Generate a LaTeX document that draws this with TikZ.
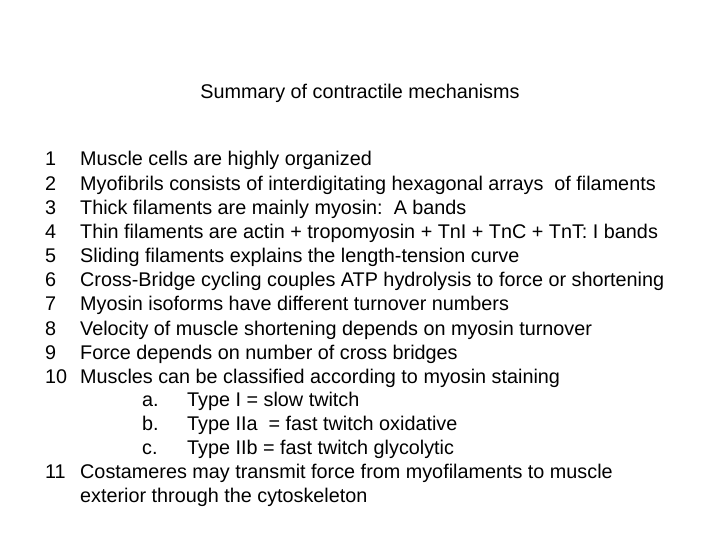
\documentclass[tikz,border=0pt]{standalone}
\usepackage{fontspec}
\setmainfont{Liberation Sans}
\begin{document}
\begin{tikzpicture}[x=1pt,y=-1pt,
  txt/.style={inner sep=0pt,font=\fontsize{19.8}{22}\selectfont,text height=14pt,text depth=4pt},
  num/.style={txt,anchor=west},
  line/.style={txt,anchor=west}]
\useasboundingbox[fill=white] (0,0) rectangle (720,540);
\node[txt] (title) at (360,94) {Summary of contractile mechanisms};
\foreach \n/\t [count=\i from 0] in {
 1/Muscle cells are highly organized,
 2/Myofibrils consists of interdigitating hexagonal arrays\ \ of filaments,
 3/Thick filaments are mainly myosin:\ \ A bands,
 4/Thin filaments are actin + tropomyosin + TnI + TnC + TnT: I bands,
 5/Sliding filaments explains the length-tension curve,
 6/Cross-Bridge cycling couples ATP hydrolysis to force or shortening,
 7/Myosin isoforms have different turnover numbers,
 8/Velocity of muscle shortening depends on myosin turnover,
 9/Force depends on number of cross bridges,
 10/Muscles can be classified according to myosin staining}{
  \node[num] (n\n) at (45,161+24.15*\i) {\n};
  \node[line] (t\n) at (80,161+24.15*\i) {\t};
}
\node[line] (la) at (142,401) {a.};
\node[line] (ta) at (187,401) {Type I = slow twitch};
\node[line] (lb) at (142,425) {b.};
\node[line] (tb) at (187,425) {Type IIa\ \ = fast twitch oxidative};
\node[line] (lc) at (142,449) {c.};
\node[line] (tc) at (187,449) {Type IIb = fast twitch glycolytic};
\node[num] (n11) at (45,473) {11};
\node[line] (t11) at (80,473) {Costameres may transmit force from myofilaments to muscle};
\node[line] (t11b) at (80,497) {exterior through the cytoskeleton};
\end{tikzpicture}
\end{document}
